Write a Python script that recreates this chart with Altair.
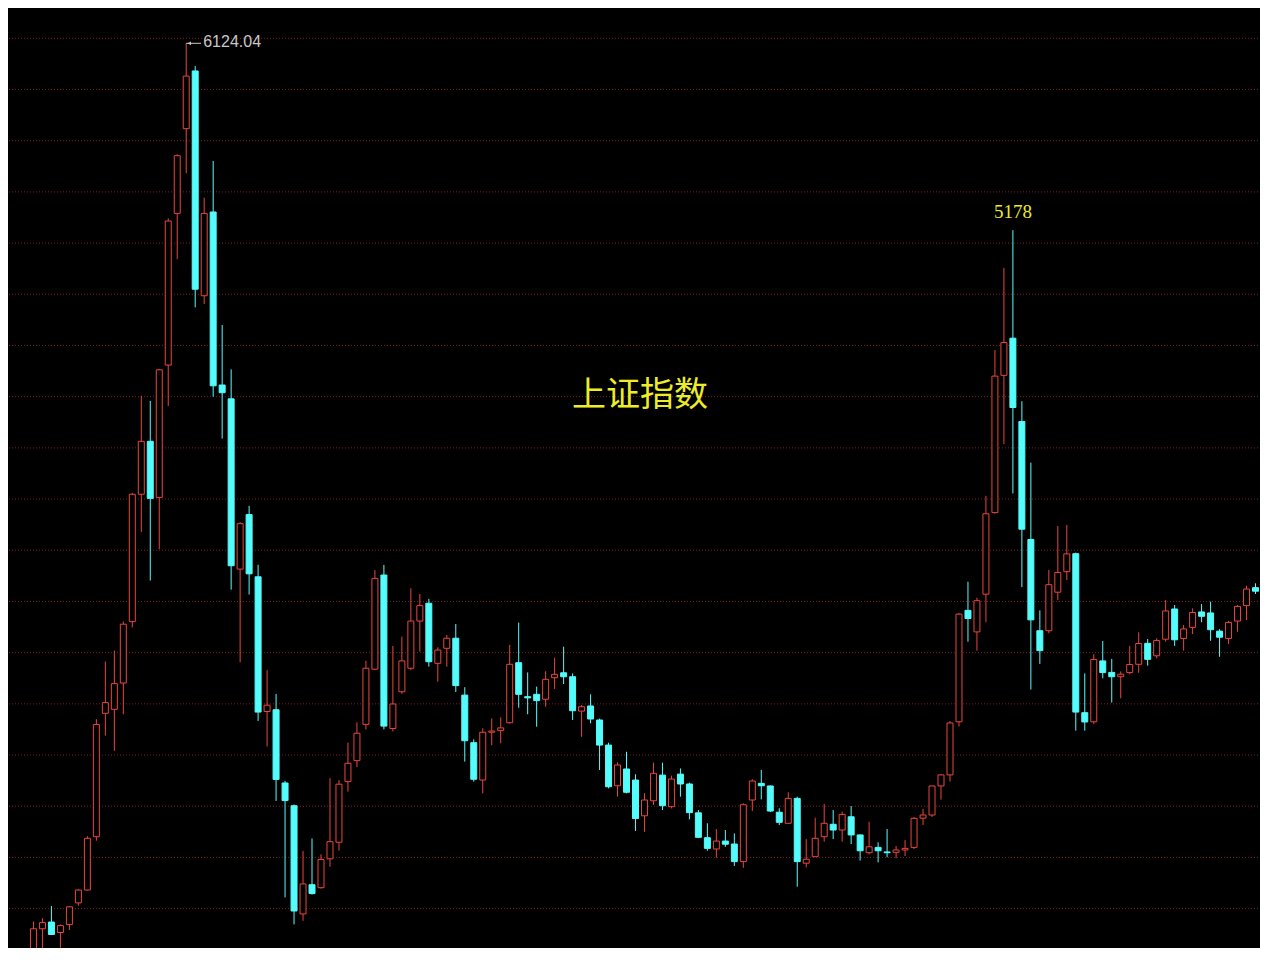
import altair as alt
import pandas as pd

# Monthly OHLC of the Shanghai Composite, May 2006 - Oct 2017
opens = [
    1440, 1641, 1675, 1622, 1662, 1772, 1837, 2107, 2732, 2752,
    2885, 3196, 3841, 4109, 3825, 4495, 5263, 5692, 5984, 4846,
    5270, 4394, 4324, 3462, 3738, 3423, 2741, 2750, 2379, 2264,
    1716, 1864, 1849, 1995, 2079, 2386, 2492, 2676, 2955, 3432,
    2655, 2841, 2960, 3199, 3289, 2985, 3061, 3112, 2824, 2583,
    2394, 2636, 2644, 2684, 2988, 2816, 2828, 2803, 2912, 2937,
    2917, 2743, 2769, 2698, 2571, 2365, 2450, 2394, 2213, 2289,
    2419, 2259, 2424, 2374, 2228, 2102, 2045, 2085, 2070, 1981,
    2293, 2377, 2364, 2231, 2175, 2301, 1973, 2006, 2107, 2170,
    2141, 2208, 2116, 2026, 2053, 2030, 2028, 2040, 2053, 2201,
    2217, 2364, 2420, 2689, 3253, 3144, 3335, 3748, 4443, 4631,
    4209, 3612, 3150, 3150, 3345, 3449, 3540, 2735, 2689, 2997,
    2939, 2917, 2938, 2980, 3086, 3023, 3107, 3260, 3111, 3167,
    3245, 3240, 3148, 3111, 3199, 3277, 3368, 3403,
]
highs = [
    1678, 1694, 1756, 1662, 1755, 1841, 2110, 2702, 2994, 3049,
    3197, 3848, 4340, 4314, 4476, 5238, 5562, 6124.04, 6009, 5342,
    5528, 4698, 4473, 3700, 3782, 3484, 2951, 2830, 2390, 2270,
    2035, 2098, 2018, 2403, 2394, 2583, 2686, 2998, 3457, 3483,
    3073, 3120, 3365, 3336, 3311, 3066, 3128, 3184, 2864, 2600,
    2656, 2706, 2711, 3078, 3191, 2939, 2867, 2945, 3013, 3069,
    2934, 2774, 2828, 2705, 2583, 2484, 2537, 2423, 2327, 2482,
    2482, 2416, 2453, 2381, 2242, 2175, 2146, 2141, 2124, 2276,
    2398, 2445, 2366, 2251, 2332, 2310, 2095, 2203, 2273, 2242,
    2234, 2262, 2118, 2183, 2079, 2146, 2060, 2090, 2207, 2248,
    2366, 2424, 2693, 3240, 3398, 3317, 3833, 4571, 4987, 5178,
    4312, 4001, 3253, 3458, 3680, 3685, 3545, 2934, 3031, 3098,
    3007, 2944, 3073, 3142, 3108, 3112, 3306, 3280, 3179, 3263,
    3285, 3297, 3158, 3200, 3280, 3378, 3390, 3420,
]
lows = [
    1400, 1513, 1610, 1545, 1635, 1758, 1834, 2087, 2619, 2542,
    2727, 3167, 3650, 3404, 3563, 4288, 5031, 5466, 4787, 4804,
    4335, 4123, 3358, 2990, 3333, 2693, 2564, 2288, 1800, 1663,
    1681, 1814, 1844, 1955, 2037, 2335, 2460, 2650, 2950, 2650,
    2640, 2830, 2950, 3044, 2968, 2892, 2968, 2840, 2487, 2386,
    2327, 2571, 2580, 2680, 2760, 2727, 2664, 2765, 2855, 2880,
    2698, 2613, 2681, 2445, 2352, 2310, 2327, 2136, 2132, 2268,
    2242, 2250, 2310, 2195, 2100, 2036, 2001, 2056, 1959, 1950,
    2237, 2296, 2232, 2166, 2172, 1854, 1952, 2004, 2082, 2095,
    2082, 2070, 1986, 2018, 1977, 2003, 1998, 2009, 2045, 2166,
    2207, 2295, 2386, 2665, 3094, 3049, 3193, 3743, 4095, 3845,
    3371, 2852, 2982, 3137, 3305, 3407, 2644, 2644, 2678, 2909,
    2786, 2808, 2929, 2937, 2973, 3010, 3095, 3073, 3049, 3133,
    3193, 3099, 3018, 3083, 3145, 3204, 3336, 3365,
]
closes = [
    1641, 1672, 1612, 1657, 1752, 1837, 2099, 2675, 2786, 2882,
    3183, 3841, 4109, 3820, 4471, 5224, 5555, 5958, 4879, 5263,
    4390, 4355, 3479, 3692, 3438, 2738, 2773, 2397, 2290, 1731,
    1868, 1819, 1992, 2082, 2373, 2479, 2631, 2960, 3415, 2667,
    2779, 2997, 3199, 3277, 2993, 3052, 3112, 2872, 2593, 2398,
    2636, 2642, 2658, 2980, 2828, 2810, 2796, 2904, 2929, 2917,
    2745, 2765, 2703, 2571, 2360, 2470, 2332, 2199, 2293, 2428,
    2264, 2399, 2374, 2229, 2104, 2048, 2085, 2069, 1981, 2269,
    2389, 2365, 2237, 2180, 2301, 1981, 1993, 2099, 2175, 2141,
    2220, 2116, 2036, 2056, 2036, 2026, 2040, 2048, 2200, 2217,
    2364, 2420, 2683, 3234, 3212, 3302, 3742, 4439, 4609, 4280,
    3664, 3205, 3049, 3383, 3445, 3539, 2738, 2688, 3004, 2938,
    2917, 2930, 2979, 3085, 3005, 3100, 3250, 3104, 3159, 3242,
    3223, 3155, 3117, 3192, 3273, 3361, 3350, 3399,
]
months = [str(p) for p in pd.period_range("2006-05", periods=len(closes), freq="M")]

title_text = "上证指数"
peak_index, peak_value, peak_label = 17, 6124.04, "6124.04"
peak2_index, peak2_value, peak2_label = 109, 5178, "5178"
grid_values = [6149.4, 5890.2, 5631.0, 5371.8, 5112.6, 4853.4, 4594.2, 4335.0,
               4075.8, 3816.6, 3557.4, 3298.2, 3039.0, 2779.8, 2520.6, 2261.4,
               2002.2, 1743.0]

W, H = 1252, 940
RED = "#E8463F"
CYAN = "#54FCFC"
YELLOW = "#ECEC2A"
GREY = "#C8C8C8"

df = pd.DataFrame({
    "i": list(range(len(closes))),
    "month": months,
    "open": opens,
    "high": highs,
    "low": lows,
    "close": closes,
})

xscale = alt.Scale(domain=[-24.5 / 9, (W - 24.5) / 9], nice=False, zero=False)
yscale = alt.Scale(domain=[1543.6, 6302.8], nice=False, zero=False)

grid = alt.Chart(pd.DataFrame({"g": grid_values})).mark_rule(
    color="#801d1d", strokeWidth=1, strokeDash=[1, 2]
).encode(
    y=alt.Y("g:Q", scale=yscale, axis=None),
    x=alt.value(0), x2=alt.value(W),
)

base = alt.Chart(df).transform_calculate(
    lo="min(datum.open, datum.close)",
    hi="max(datum.open, datum.close)",
    dir="datum.close >= datum.open ? 'up' : 'down'",
    xl="datum.i - 1/3",
    xr="datum.i + 1/3",
)

wick = base.mark_rule(strokeWidth=1, clip=True).encode(
    x=alt.X("i:Q", scale=xscale, axis=None),
    y=alt.Y("low:Q", scale=yscale, axis=None),
    y2="high:Q",
    color=alt.Color("dir:N", scale=alt.Scale(domain=["up", "down"], range=[RED, CYAN]),
                    legend=None),
)

up_body = base.transform_filter("datum.close >= datum.open").mark_rect(
    fill="#000000", stroke=RED, strokeWidth=1, clip=True
).encode(
    x=alt.X("xl:Q", scale=xscale, axis=None), x2="xr:Q",
    y=alt.Y("lo:Q", scale=yscale, axis=None), y2="hi:Q",
)

down_body = base.transform_filter("datum.close < datum.open").mark_rect(
    fill=CYAN, stroke=CYAN, strokeWidth=1, clip=True
).encode(
    x=alt.X("xl:Q", scale=xscale, axis=None), x2="xr:Q",
    y=alt.Y("lo:Q", scale=yscale, axis=None), y2="hi:Q",
)

peak_df = pd.DataFrame({"i": [peak_index], "v": [peak_value], "label": [peak_label]})
peak_base = alt.Chart(peak_df).transform_calculate(ie="datum.i + 1.65", ih="datum.i + 0.35")
arrow_line = peak_base.mark_rule(color=GREY, strokeWidth=1).encode(
    x=alt.X("i:Q", scale=xscale, axis=None), x2="ie:Q",
    y=alt.Y("v:Q", scale=yscale, axis=None),
)
arrow_head = peak_base.mark_point(shape="triangle-left", filled=True, size=14,
                                  color=GREY, opacity=1).encode(
    x=alt.X("ih:Q", scale=xscale, axis=None),
    y=alt.Y("v:Q", scale=yscale, axis=None),
)
peak_text = peak_base.mark_text(align="left", baseline="middle", dx=17, dy=-1,
                                font="Liberation Sans", fontSize=16, color=GREY).encode(
    x=alt.X("i:Q", scale=xscale, axis=None),
    y=alt.Y("v:Q", scale=yscale, axis=None),
    text="label:N",
)

p2_df = pd.DataFrame({"i": [peak2_index], "v": [peak2_value], "label": [peak2_label]})
p2_text = alt.Chart(p2_df).mark_text(align="center", baseline="alphabetic", dy=-12,
                                     font="Liberation Serif", fontSize=19,
                                     color=YELLOW).encode(
    x=alt.X("i:Q", scale=xscale, axis=None),
    y=alt.Y("v:Q", scale=yscale, axis=None),
    text="label:N",
)

title = alt.Chart(pd.DataFrame({"t": [title_text]})).mark_text(
    align="center", baseline="middle", font="Noto Sans CJK SC", fontSize=34,
    color=YELLOW,
).encode(x=alt.value(631), y=alt.value(388), text="t:N")

chart = alt.layer(
    grid, wick, up_body, down_body, arrow_line, arrow_head, peak_text, p2_text, title
).properties(
    width=W, height=H, background="#000000", padding=0,
    autosize=alt.AutoSizeParams(type="fit", contains="padding"),
).configure_view(stroke=None)

chart.save("out.html", embed_options={"renderer": "svg", "actions": False})
